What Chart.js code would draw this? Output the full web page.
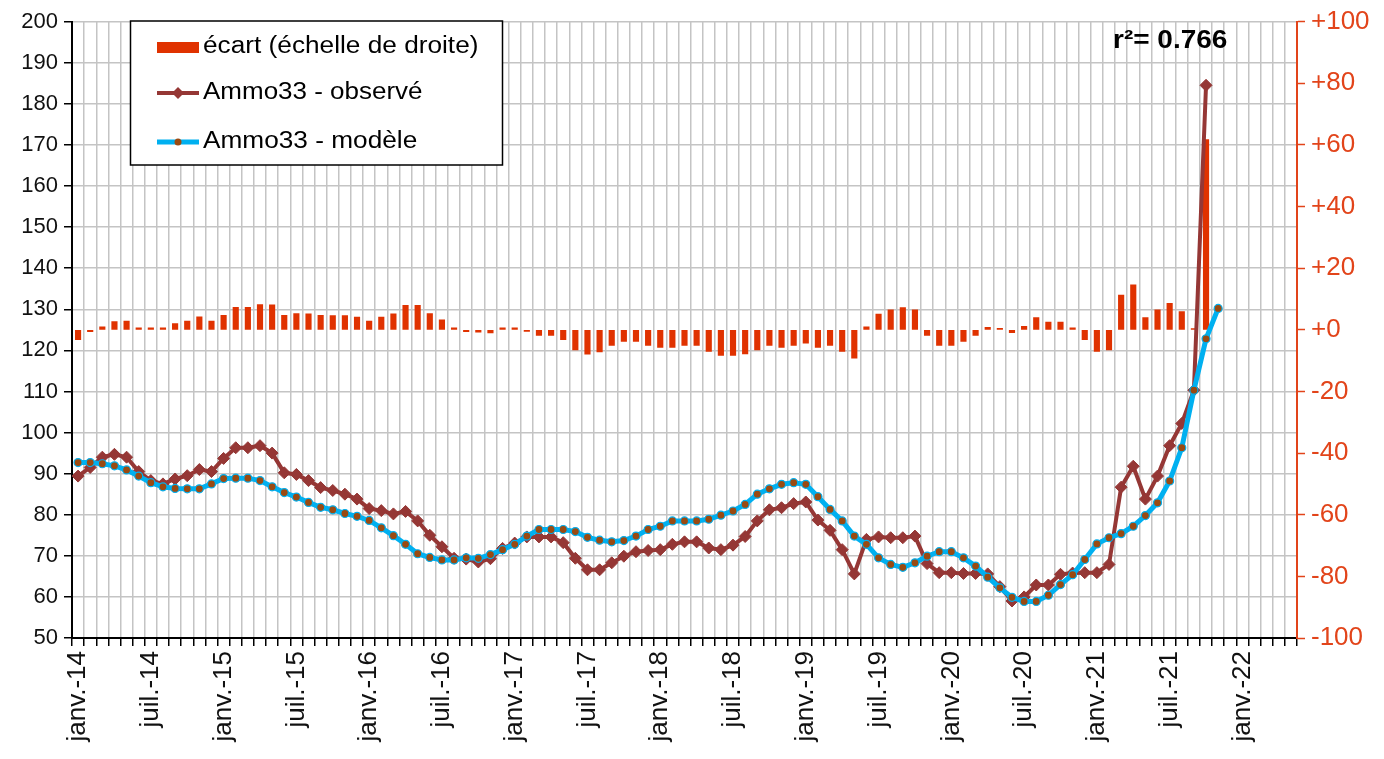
<!DOCTYPE html>
<html><head><meta charset="utf-8">
<script src="https://cdn.jsdelivr.net/npm/chart.js@4.4.1/dist/chart.umd.min.js"></script>
<style>html,body{margin:0;padding:0;background:#fff;overflow:hidden}#wrap{width:1384px;height:759px;position:relative}</style>
</head><body><div id="wrap"><canvas id="c" width="1384" height="759"></canvas></div>
<script>
// Category labels: monthly, janv.-14 .. mai-22
const monthNames = ['janv.','févr.','mars','avr.','mai','juin','juil.','août','sept.','oct.','nov.','déc.'];
const years = ['14','15','16','17','18','19','20','21','22'];
const categories = [];
for (const y of years) for (const m of monthNames) { if (categories.length < 101) categories.push(m + '-' + y); }

// Ammo33 - observé (left scale), janv.-14 .. oct.-21
const observed = [89.4, 91.5, 94.0, 94.7, 94.0, 90.5, 88.3, 87.5, 88.7, 89.5,
 91.0, 90.5, 93.7, 96.3, 96.3, 96.8, 95.0, 90.2, 89.8, 88.3,
 86.6, 85.9, 85.0, 83.8, 81.5, 81.0, 80.2, 80.8, 78.5, 75.0,
 72.2, 69.4, 69.2, 68.5, 69.3, 71.8, 73.1, 74.6, 74.6, 74.6,
 73.2, 69.4, 66.6, 66.6, 68.3, 69.9, 71.0, 71.3, 71.5, 72.8,
 73.4, 73.4, 71.9, 71.5, 72.6, 74.7, 78.5, 81.2, 81.7, 82.7,
 83.1, 78.7, 76.2, 71.5, 65.6, 74.0, 74.6, 74.4, 74.4, 74.8,
 68.1, 65.9, 65.9, 65.7, 65.7, 65.6, 62.5, 59.0, 60.0, 62.9,
 62.9, 65.5, 65.8, 65.9, 65.9, 67.9, 86.7, 91.8, 83.8, 89.4,
 96.8, 102.2, 110.3, 184.5];

// Ammo33 - modèle (left scale), janv.-14 .. nov.-21
const model = [92.7, 92.7, 92.4, 91.9, 90.9, 89.4, 87.8, 86.8, 86.4, 86.3,
 86.3, 87.5, 88.8, 88.9, 88.9, 88.3, 86.8, 85.4, 84.3, 83.0,
 81.8, 81.2, 80.3, 79.6, 78.6, 76.8, 74.9, 72.8, 70.5, 69.6,
 69.0, 69.0, 69.5, 69.4, 70.3, 71.5, 72.8, 74.8, 76.4, 76.4,
 76.4, 75.9, 74.5, 73.8, 73.4, 73.7, 74.8, 76.4, 77.2, 78.5,
 78.5, 78.5, 78.9, 79.9, 80.9, 82.5, 85.0, 86.3, 87.4, 87.8,
 87.4, 84.4, 81.3, 78.5, 74.8, 72.8, 69.5, 67.9, 67.2, 68.3,
 69.9, 71.0, 71.0, 69.5, 67.5, 64.8, 62.2, 59.9, 58.9, 58.9,
 60.4, 63.0, 65.4, 69.1, 72.9, 74.4, 75.4, 77.2, 79.8, 82.9,
 88.2, 96.3, 110.3, 122.8, 130.2];

// écart (right scale)
const ecart = [-3.2, -0.6, 1.0, 2.7, 2.8, 0.6, 0.6, 0.6, 2.0, 2.8,
 4.2, 2.8, 4.7, 7.3, 7.3, 8.2, 8.1, 4.7, 5.3, 5.2,
 4.7, 4.6, 4.6, 4.1, 2.8, 4.1, 5.2, 7.9, 7.9, 5.3,
 3.2, 0.6, -0.6, -0.8, -1.0, 0.6, 0.6, -0.5, -1.8, -1.8,
 -3.2, -6.5, -7.9, -7.2, -5.1, -3.8, -3.8, -5.1, -5.7, -5.7,
 -5.1, -5.1, -7.0, -8.3, -8.3, -7.8, -6.5, -5.1, -5.7, -5.1,
 -4.3, -5.7, -5.1, -7.0, -9.2, 1.0, 5.1, 6.5, 7.2, 6.5,
 -1.8, -5.1, -5.1, -3.8, -1.8, 0.8, 0.5, -0.9, 1.1, 4.0,
 2.5, 2.5, 0.6, -3.2, -7.0, -6.5, 11.3, 14.6, 4.0, 6.5,
 8.6, 5.9, 0.4, 61.7];

const leftTicks = { min: 50, max: 200, step: 10 };
const rightTicks = { min: -100, max: 100, step: 20 };
const shownMonths = ['janv.', 'juil.'];
const r2Label = 'r²= 0.766';
const legendLabels = ['écart (échelle de droite)', 'Ammo33 - observé', 'Ammo33 - modèle'];

const C_BAR = '#E03200', C_OBS = '#953735', C_MOD = '#00B0F0', C_DOT = '#9A4A12', C_RIGHT = '#E2441A', C_GRID = '#c4c4c4';
const FONT = 'Liberation Sans, Arial, sans-serif';

function stretchedText(ctx, text, x, y, sx) {
  ctx.save(); ctx.translate(x, y); ctx.scale(sx, 1); ctx.fillText(text, 0, 0); ctx.restore();
}

const overlay = {
  id: 'overlay',
  afterDraw(chart) {
    const ctx = chart.ctx;
    ctx.save();
    // legend box
    ctx.fillStyle = '#fff';
    ctx.fillRect(130, 21, 372, 144);
    ctx.strokeStyle = '#000'; ctx.lineWidth = 1.5;
    ctx.strokeRect(130.5, 21, 372, 144);
    ctx.font = '23px ' + FONT; ctx.textBaseline = 'middle'; ctx.textAlign = 'left';
    // item 1
    ctx.fillStyle = C_BAR; ctx.fillRect(157, 42, 42, 11);
    ctx.fillStyle = '#000'; stretchedText(ctx, legendLabels[0], 203, 47, 1.14);
    // item 2
    ctx.strokeStyle = C_OBS; ctx.lineWidth = 4; ctx.beginPath(); ctx.moveTo(157, 93); ctx.lineTo(199, 93); ctx.stroke();
    ctx.fillStyle = C_OBS; ctx.beginPath(); ctx.moveTo(178, 87); ctx.lineTo(184, 93); ctx.lineTo(178, 99); ctx.lineTo(172, 93); ctx.closePath(); ctx.fill();
    ctx.fillStyle = '#000'; stretchedText(ctx, legendLabels[1], 203, 93, 1.13);
    // item 3
    ctx.strokeStyle = C_MOD; ctx.lineWidth = 5; ctx.beginPath(); ctx.moveTo(157, 142); ctx.lineTo(199, 142); ctx.stroke();
    ctx.fillStyle = C_DOT; ctx.beginPath(); ctx.arc(178, 142, 3.5, 0, Math.PI * 2); ctx.fill();
    ctx.fillStyle = '#000'; stretchedText(ctx, legendLabels[2], 203, 142, 1.14);
    // r2
    ctx.font = 'bold 25px ' + FONT; ctx.textBaseline = 'alphabetic';
    stretchedText(ctx, r2Label, 1113, 48, 1.12);
    ctx.restore();
  }
};

new Chart(document.getElementById('c'), {
  data: {
    labels: categories,
    datasets: [
      { type: 'line', label: legendLabels[2], data: model, yAxisID: 'y', order: 0,
        borderColor: C_MOD, borderWidth: 5, pointStyle: 'circle', pointRadius: 4,
        pointBackgroundColor: C_DOT, pointBorderColor: C_MOD, pointBorderWidth: 1.2, tension: 0, fill: false },
      { type: 'line', label: legendLabels[1], data: observed, yAxisID: 'y', order: 1,
        borderColor: C_OBS, borderWidth: 4, pointStyle: 'rectRot', pointRadius: 6,
        pointBackgroundColor: C_OBS, pointBorderColor: C_OBS, pointBorderWidth: 1, tension: 0, fill: false },
      { type: 'bar', label: legendLabels[0], data: ecart, yAxisID: 'y1', order: 2,
        backgroundColor: C_BAR, barThickness: 5.5 }
    ]
  },
  options: {
    responsive: false, animation: false, devicePixelRatio: 1,
    layout: { padding: { top: 20, left: 0, right: 0, bottom: 0 } },
    plugins: { legend: { display: false }, tooltip: { enabled: false } },
    scales: {
      x: {
        type: 'category', offset: true,
        grid: { offset: true, color: C_GRID, lineWidth: 1.5, tickColor: '#000', tickLength: 8, tickWidth: 1.5 },
        border: { color: '#000', width: 2 },
        ticks: { autoSkip: false, minRotation: 90, maxRotation: 90, padding: 5, color: '#111',
          font: { family: FONT, size: 26 },
          callback: (v, i) => shownMonths.some(m => categories[i].startsWith(m + '-')) ? categories[i] : '' },
        afterFit: s => { s.height = 121; }
      },
      y: {
        position: 'left', min: leftTicks.min, max: leftTicks.max,
        grid: { color: C_GRID, lineWidth: 1.5, tickColor: '#000', tickLength: 8, tickWidth: 1.5 },
        border: { color: '#000', width: 2 },
        ticks: { stepSize: leftTicks.step, padding: 6, color: '#111', font: { family: FONT, size: 22 } },
        afterFit: s => { s.width = 72; }
      },
      y1: {
        position: 'right', min: rightTicks.min, max: rightTicks.max,
        grid: { drawOnChartArea: false, tickColor: C_RIGHT, tickLength: 8, tickWidth: 1.5 },
        border: { color: C_RIGHT, width: 2 },
        ticks: { stepSize: rightTicks.step, padding: 6, color: C_RIGHT, font: { family: FONT, size: 26 },
          callback: v => (v >= 0 ? '+' + v : String(v)) },
        afterFit: s => { s.width = 87; }
      }
    }
  },
  plugins: [overlay]
});
</script></body></html>
